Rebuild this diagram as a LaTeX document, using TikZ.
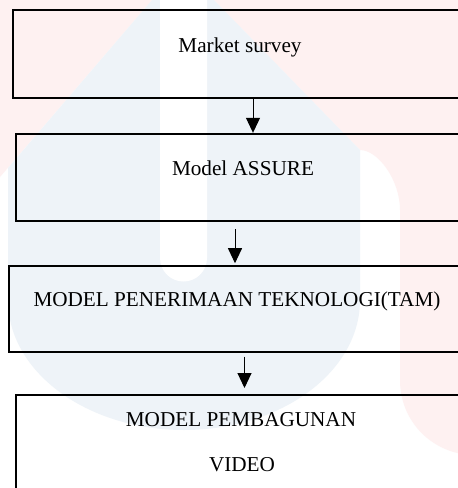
\documentclass[tikz,border=0pt]{standalone}
\usepackage{fontspec}
\setmainfont{Liberation Serif}
\usetikzlibrary{arrows.meta}
\definecolor{wmpink}{RGB}{254,241,241}
\definecolor{wmblue}{RGB}{238,243,248}
\begin{document}
\begin{tikzpicture}[x=1pt,y=-1pt,
  flowbox/.style={draw=black, line width=2pt, outer sep=0pt, inner sep=0pt, anchor=north west},
  boxtext/.style={font=\fontsize{21.2}{25}\selectfont, anchor=base, inner sep=0pt},
  flowarrow/.style={line width=1pt, -{Triangle[length=15pt,width=14pt]}}]
\useasboundingbox (0,0) rectangle (458,488);
\clip (0,0) rectangle (458,488);
\fill[white] (0,0) rectangle (458,488);

% faint background emblem
\fill[wmpink] (0,0) -- (152,0) -- (0,177) -- cycle;
\fill[wmpink] (214,0) -- (470,0) -- (470,455)
  .. controls (430,452) and (400,420) .. (400,380) -- (400,210)
  .. controls (400,180) and (378,150) .. (360,150) -- cycle;
\fill[wmblue] (152,0) -- (8,168) -- (8,300)
  .. controls (8,372) and (87,430) .. (184,430)
  .. controls (281,430) and (360,372) .. (360,300)
  -- (360,150) -- (214,0) -- cycle;
\fill[white] (160,0) -- (160,258) .. controls (160,271) and (170.5,281.5) .. (183.5,281.5)
  .. controls (196.5,281.5) and (207,271) .. (207,258) -- (207,0) -- cycle;

% boxes
\node[flowbox, minimum width=460pt, minimum height=87.7pt] (b1) at (12.7,10) {};
\node[flowbox, minimum width=460pt, minimum height=86.7pt] (b2) at (15.7,134.3) {};
\node[flowbox, minimum width=460pt, minimum height=86pt] (b3) at (9,265.7) {};
\node[flowbox, minimum width=460pt, minimum height=120pt] (b4) at (15.7,395) {};

% labels
\node[boxtext] (t1) at (240,52.7) {Market survey};
\node[boxtext] (t2) at (243,175) {Model ASSURE};
\node[boxtext] (t3) at (237,306) {MODEL PENERIMAAN TEKNOLOGI(TAM)};
\node[boxtext] (t4a) at (241,426) {MODEL PEMBAGUNAN};
\node[boxtext] (t4b) at (242,471.7) {VIDEO};

% connectors
\coordinate (a1) at (253,0);
\coordinate (a2) at (235,0);
\coordinate (a3) at (244.5,0);
\draw[flowarrow, shorten >=1.5pt] (b1.south -| a1) -- (b2.north -| a1);
\draw[flowarrow, shorten <=8pt, shorten >=2.5pt] (b2.south -| a2) -- (b3.north -| a2);
\draw[flowarrow, shorten <=5pt, shorten >=7pt] (b3.south -| a3) -- (b4.north -| a3);
\end{tikzpicture}
\end{document}
